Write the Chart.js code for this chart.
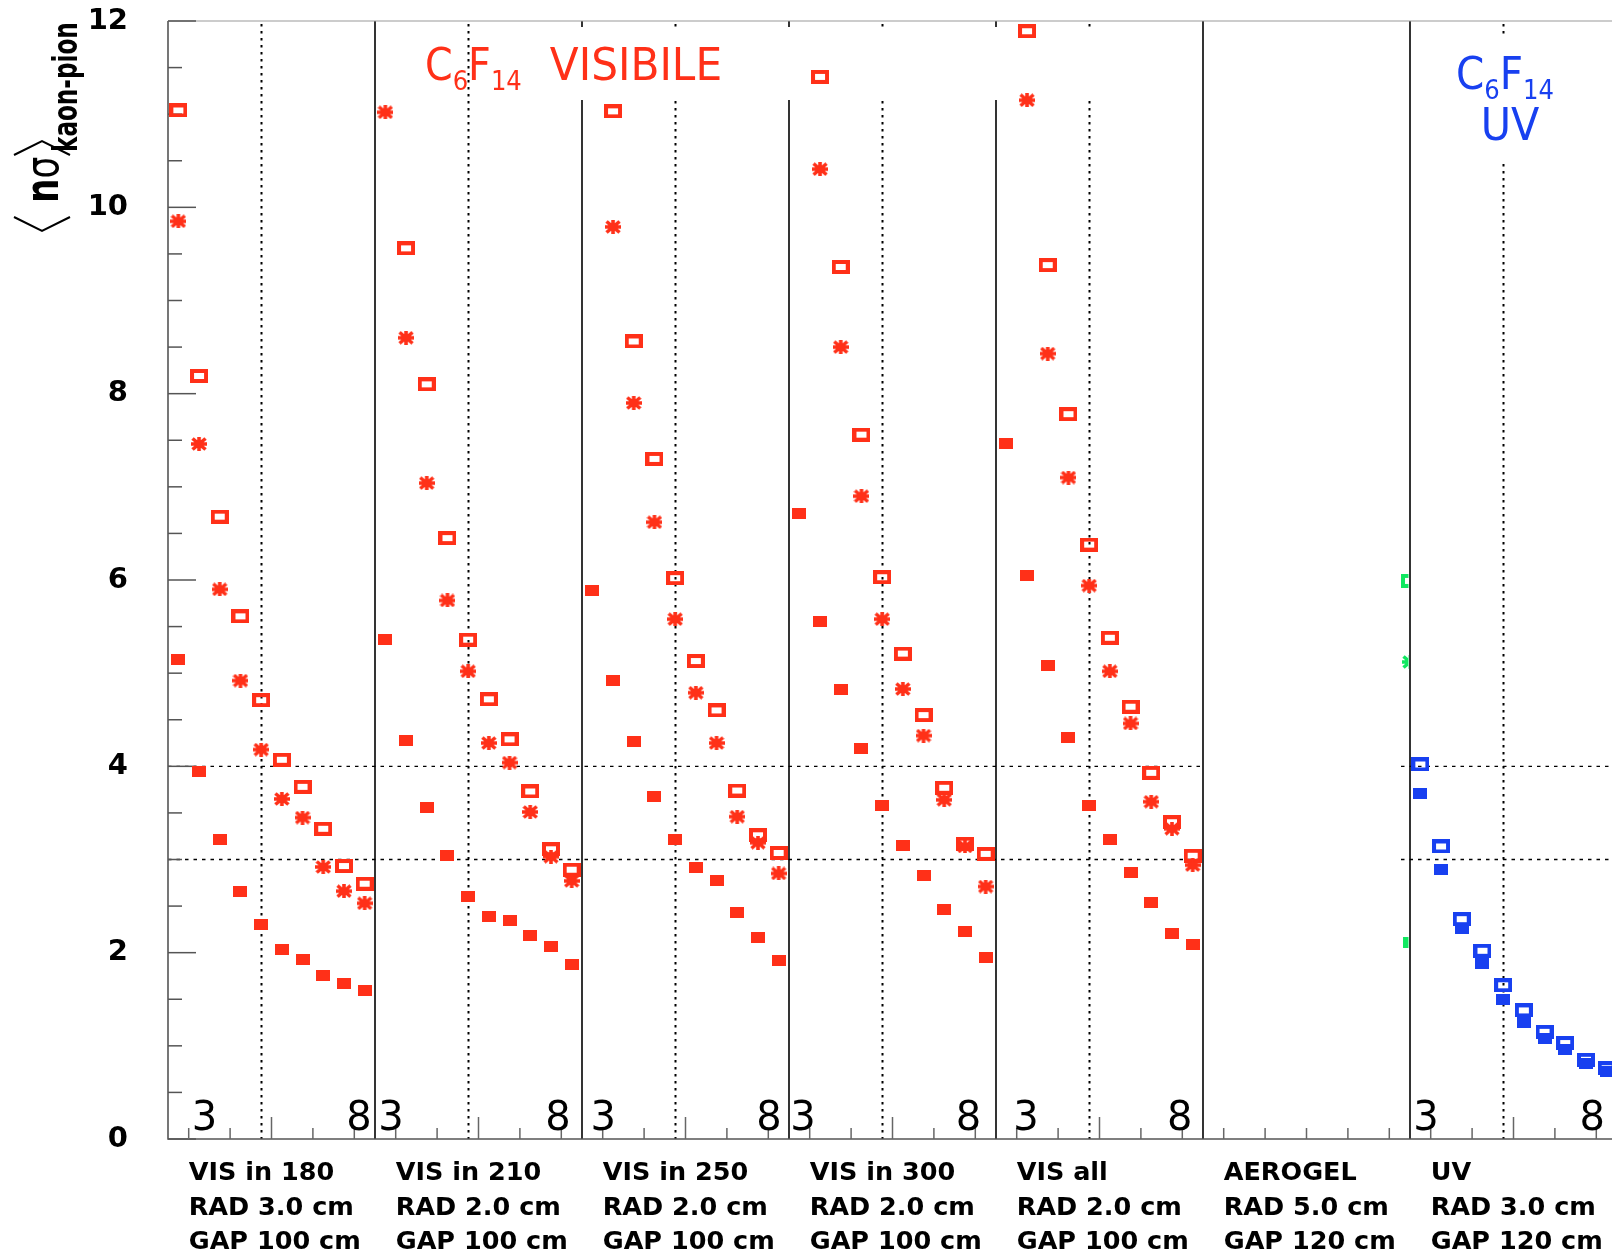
<!DOCTYPE html>
<html>
<head>
<meta charset="utf-8">
<title>Kaon-pion separation per radiator</title>
<script src="https://cdn.jsdelivr.net/npm/chart.js@4.4.1/dist/chart.umd.min.js"></script>
<style>
  html, body { margin: 0; padding: 0; background: #fff; overflow: hidden; }
  canvas { display: block; }
</style>
</head>
<body>
<canvas id="sep_chart" width="1660" height="1255"></canvas>
<script>
// radiator configurations, one panel each
const radiators = ['VIS in 180', 'VIS in 210', 'VIS in 250', 'VIS in 300', 'VIS all', 'AEROGEL', 'UV'];
const radThickness = ['RAD 3.0 cm', 'RAD 2.0 cm', 'RAD 2.0 cm', 'RAD 2.0 cm', 'RAD 2.0 cm', 'RAD 5.0 cm', 'RAD 3.0 cm'];
const gapLength = ['GAP 100 cm', 'GAP 100 cm', 'GAP 100 cm', 'GAP 100 cm', 'GAP 100 cm', 'GAP 120 cm', 'GAP 120 cm'];

// <n sigma> per momentum bin (10 bins per panel), C6F14 visible panels
const visOpen = [
  [11.04, 8.19, 6.68, 5.61, 4.71, 4.07, 3.78, 3.33, 2.93, 2.74],
  [null, 9.56, 8.10, 6.45, 5.36, 4.72, 4.29, 3.73, 3.11, 2.89],
  [null, 11.03, 8.56, 7.30, 6.02, 5.13, 4.60, 3.74, 3.26, 3.07],
  [null, 11.40, 9.36, 7.56, 6.03, 5.21, 4.55, 3.77, 3.17, 3.06],
  [null, 11.89, 9.38, 7.78, 6.38, 5.38, 4.64, 3.93, 3.40, 3.04]
];
const visStar = [
  [9.85, 7.46, 5.90, 4.92, 4.18, 3.65, 3.45, 2.92, 2.66, 2.53],
  [11.02, 8.60, 7.04, 5.78, 5.02, 4.25, 4.04, 3.51, 3.03, 2.77],
  [null, 9.79, 7.90, 6.62, 5.58, 4.79, 4.25, 3.46, 3.18, 2.85],
  [null, 10.41, 8.50, 6.90, 5.58, 4.83, 4.33, 3.64, 3.14, 2.71],
  [null, 11.15, 8.43, 7.10, 5.94, 5.02, 4.46, 3.62, 3.33, 2.94]
];
const visFilled = [
  [5.15, 3.94, 3.22, 2.66, 2.30, 2.03, 1.93, 1.76, 1.67, 1.59],
  [5.36, 4.28, 3.56, 3.04, 2.60, 2.39, 2.35, 2.18, 2.07, 1.87],
  [5.89, 4.92, 4.27, 3.68, 3.21, 2.91, 2.77, 2.43, 2.16, 1.92],
  [6.71, 5.55, 4.83, 4.19, 3.58, 3.15, 2.83, 2.46, 2.23, 1.95],
  [7.46, 6.05, 5.08, 4.31, 3.58, 3.22, 2.86, 2.54, 2.21, 2.09]
];
// aerogel: only the points sitting on the panel edge
const aerogelOpen = [5.99];
const aerogelStar = [5.12];
const aerogelFilled = [2.11];
// C6F14 UV
const uvOpen = [4.02, 3.14, 2.36, 2.02, 1.65, 1.38, 1.15, 1.03, 0.85, 0.76];
const uvFilled = [3.71, 2.89, 2.26, 1.88, 1.50, 1.25, 1.08, 0.96, 0.81, 0.72];

const refLevels = [3, 4];
const momentumTags = ['3', '8'];

const BIN = 10;
const RED = 'rgb(255, 48, 24)';
const BLUE = 'rgb(24, 64, 240)';
const GREEN = 'rgb(16, 232, 96)';

// where the "3" and "8" momentum tags sit inside each panel (bin units)
const tagOffsets = [[1.76, 9.22], [0.77, 8.84], [1.03, 9.03], [0.68, 8.67], [1.45, 8.88], null, [0.77, 8.8]];

function marker(w, h, paint) {
  const c = document.createElement('canvas');
  c.width = w; c.height = h;
  paint(c.getContext('2d'), w, h);
  return c;
}
const openBox = color => marker(18, 14, (g, w, h) => {
  g.fillStyle = color; g.fillRect(0, 0, w, h); g.clearRect(4, 4, w - 8, h - 8);
});
const fullBox = color => marker(14, 11, (g, w, h) => {
  g.fillStyle = color; g.fillRect(0, 0, w, h);
});
const starMark = color => marker(16, 14, (g, w, h) => {
  g.strokeStyle = color; g.fillStyle = color; g.lineWidth = 3.6;
  g.beginPath();
  g.moveTo(0, h / 2); g.lineTo(w, h / 2);
  g.moveTo(w / 2, 0); g.lineTo(w / 2, h);
  g.moveTo(1.5, 1.5); g.lineTo(w - 1.5, h - 1.5);
  g.moveTo(w - 1.5, 1.5); g.lineTo(1.5, h - 1.5);
  g.stroke();
  g.fillRect(4, 3.5, w - 8, h - 7);
});

const toPoints = (panel, values) => values.map((v, i) => ({ x: panel * BIN + i + 0.5, y: v }));
const series = (data, style, order, extra) => Object.assign({
  data, pointStyle: style, pointRadius: 5, pointHoverRadius: 5, showLine: false, order
}, extra || {});

const datasets = [];
visOpen.forEach((vals, p) => datasets.push(series(toPoints(p, vals), openBox(RED), 2)));
visStar.forEach((vals, p) => datasets.push(series(toPoints(p, vals), starMark(RED), 1)));
visFilled.forEach((vals, p) => datasets.push(series(toPoints(p, vals), fullBox(RED), 0)));
// aerogel markers are cut by the UV panel
const edge = v => v.map(y => ({ x: 6 * BIN, y }));
datasets.push(series(edge(aerogelOpen), openBox(GREEN), 2, { edgePanel: 5 }));
datasets.push(series(edge(aerogelStar), starMark(GREEN), 1, { edgePanel: 5 }));
datasets.push(series(edge(aerogelFilled), fullBox(GREEN), 0, { edgePanel: 5 }));
datasets.push(series(toPoints(6, uvOpen), openBox(BLUE), 2));
datasets.push(series(toPoints(6, uvFilled), fullBox(BLUE), 0));

function drawTitle(ctx, parts, x0) {
  let x = x0;
  parts.forEach(([txt, size, base, sx, gap]) => {
    ctx.font = size + 'px "DejaVu Sans"';
    ctx.save();
    ctx.translate(x, base);
    ctx.scale(sx, 1);
    ctx.fillText(txt, 0, 0);
    ctx.restore();
    x += ctx.measureText(txt).width * sx + (gap || 0);
  });
}

const panelDecor = {
  id: 'panelDecor',
  beforeDatasetDraw(chart, args) {
    const ds = chart.data.datasets[args.index];
    if (ds.edgePanel === undefined) return;
    const { ctx, chartArea: a, scales: { x } } = chart;
    const left = x.getPixelForValue(ds.edgePanel * BIN);
    const right = x.getPixelForValue((ds.edgePanel + 1) * BIN) - 1.5;
    ctx.save();
    ctx.beginPath();
    ctx.rect(left, a.top, right - left, a.bottom - a.top);
    ctx.clip();
  },
  afterDatasetDraw(chart, args) {
    if (chart.data.datasets[args.index].edgePanel === undefined) return;
    chart.ctx.restore();
  },
  beforeDatasetsDraw(chart) {
    const { ctx, chartArea: a, scales: { x, y } } = chart;
    const px = v => x.getPixelForValue(v);
    const py = v => y.getPixelForValue(v);
    ctx.save();

    // 3 and 4 sigma reference lines
    ctx.strokeStyle = '#000';
    ctx.lineWidth = 1.4;
    ctx.setLineDash([3.5, 5]);
    refLevels.forEach(v => {
      ctx.beginPath();
      ctx.moveTo(a.left, py(v)); ctx.lineTo(px(5 * BIN), py(v));
      ctx.moveTo(px(6 * BIN) - 9, py(v)); ctx.lineTo(a.right, py(v));
      ctx.stroke();
    });

    // dotted marker through the fifth momentum bin
    ctx.lineWidth = 2;
    ctx.setLineDash([2.5, 4.5]);
    radiators.forEach((_, p) => {
      if (p === 5) return;
      const xx = Math.round(px(p * BIN + 4.5)) + 0.5;
      ctx.beginPath(); ctx.moveTo(xx, a.top + 3); ctx.lineTo(xx, a.bottom); ctx.stroke();
    });
    ctx.setLineDash([]);

    // panel separators
    ctx.lineWidth = 1.6;
    for (let p = 1; p <= radiators.length; p++) {
      const xx = px(p * BIN);
      ctx.beginPath(); ctx.moveTo(xx, a.top); ctx.lineTo(xx, a.bottom); ctx.stroke();
    }

    // frame
    ctx.strokeStyle = '#555';
    ctx.lineWidth = 1.6;
    ctx.beginPath();
    ctx.moveTo(a.left, a.top); ctx.lineTo(a.left, a.bottom); ctx.lineTo(a.right, a.bottom);
    ctx.stroke();
    ctx.strokeStyle = '#9a9a9a';
    ctx.lineWidth = 1.2;
    ctx.beginPath(); ctx.moveTo(a.left, a.top); ctx.lineTo(a.right, a.top); ctx.stroke();

    // y ticks, every 0.5
    ctx.strokeStyle = '#555';
    ctx.lineWidth = 1.5;
    for (let v = 0; v <= y.max + 1e-9; v += 0.5) {
      const len = v % 2 === 0 ? 28 : 14;
      ctx.beginPath(); ctx.moveTo(a.left, py(v)); ctx.lineTo(a.left + len, py(v)); ctx.stroke();
    }
    // x ticks, every second bin
    ctx.strokeStyle = '#666';
    radiators.forEach((_, p) => {
      [1, 3, 5, 7, 9].forEach(b => {
        const len = (b === 5 && p !== 5) ? 22 : 11;
        const xx = px(p * BIN + b);
        ctx.beginPath(); ctx.moveTo(xx, a.bottom); ctx.lineTo(xx, a.bottom - len); ctx.stroke();
      });
    });

    // momentum tags
    ctx.fillStyle = '#000';
    ctx.font = '40px "DejaVu Sans"';
    ctx.textAlign = 'center';
    ctx.textBaseline = 'alphabetic';
    tagOffsets.forEach((offs, p) => {
      if (!offs) return;
      offs.forEach((o, k) => ctx.fillText(momentumTags[k], px(p * BIN + o), a.bottom - 9));
    });

    // panel titles on white boxes
    ctx.fillStyle = '#fff';
    ctx.fillRect(px(1.55 * BIN), a.top + 6, px(4.5 * BIN) - px(1.55 * BIN), 73);
    ctx.fillRect(px(6.15 * BIN), a.top + 14, px(6.9 * BIN) - px(6.15 * BIN), 125);
    ctx.textAlign = 'left';
    ctx.fillStyle = RED;
    drawTitle(ctx, [['C', 44, 80, 0.9], ['6', 27, 90, 0.9], ['F', 44, 80, 0.9], ['14', 27, 90, 0.9, 28], ['VISIBILE', 44, 80, 0.96]], 425);
    ctx.fillStyle = BLUE;
    drawTitle(ctx, [['C', 45, 89, 0.9], ['6', 27, 99, 0.9], ['F', 45, 89, 0.9], ['14', 27, 99, 0.9]], 1456);
    ctx.save();
    ctx.font = '45px "DejaVu Sans"';
    ctx.textAlign = 'center';
    ctx.translate(1510, 140);
    ctx.scale(0.92, 1);
    ctx.fillText('UV', 0, 0);
    ctx.restore();

    // y axis title: <n sigma>_kaon-pion
    ctx.fillStyle = '#000';
    ctx.save();
    ctx.translate(58, 203); ctx.rotate(-Math.PI / 2); ctx.scale(0.75, 1);
    ctx.font = 'bold 46px "DejaVu Sans"';
    ctx.fillText('n', 0, 0);
    ctx.translate(ctx.measureText('n').width, 0);
    ctx.font = '46px "DejaVu Sans"';
    ctx.fillText('σ', 0, 0);
    ctx.restore();
    ctx.save();
    ctx.translate(77, 152); ctx.rotate(-Math.PI / 2); ctx.scale(0.68, 1);
    ctx.font = 'bold 34px "DejaVu Sans"';
    ctx.fillText('kaon-pion', 0, 0);
    ctx.restore();
    ctx.strokeStyle = '#000';
    ctx.lineWidth = 2;
    ctx.beginPath(); ctx.moveTo(14, 217); ctx.lineTo(42, 231); ctx.lineTo(70, 217); ctx.stroke();
    ctx.beginPath(); ctx.moveTo(14, 155); ctx.lineTo(42, 141); ctx.lineTo(70, 155); ctx.stroke();

    ctx.restore();
  }
};

new Chart(document.getElementById('sep_chart'), {
  type: 'scatter',
  data: { datasets },
  options: {
    responsive: false,
    animation: false,
    devicePixelRatio: 1,
    layout: { padding: { top: 21, right: 43, left: 0, bottom: 0 } },
    plugins: { legend: { display: false }, tooltip: { enabled: false } },
    scales: {
      x: {
        type: 'linear',
        min: 0,
        max: radiators.length * BIN,
        grid: { display: false, drawTicks: false },
        border: { display: false },
        afterBuildTicks: s => { s.ticks = radiators.map((_, p) => ({ value: p * BIN + 1 })); },
        afterFit: s => { s.height = 116; s.paddingLeft = 0; s.paddingRight = 0; },
        ticks: {
          autoSkip: false,
          maxRotation: 0,
          align: 'start',
          padding: 17,
          color: '#000',
          font: { family: 'DejaVu Sans', weight: 'bold', size: 25.5, lineHeight: 1.36 },
          callback: (v, i) => [radiators[i], radThickness[i], gapLength[i]]
        }
      },
      y: {
        min: 0,
        max: 12,
        grid: { display: false, drawTicks: false },
        border: { display: false },
        afterFit: s => { s.width = 168; s.paddingTop = 0; s.paddingBottom = 0; },
        ticks: {
          stepSize: 2,
          padding: 40,
          color: '#000',
          font: { family: 'DejaVu Sans', weight: 'bold', size: 29 }
        }
      }
    }
  },
  plugins: [panelDecor]
});
</script>
</body>
</html>
